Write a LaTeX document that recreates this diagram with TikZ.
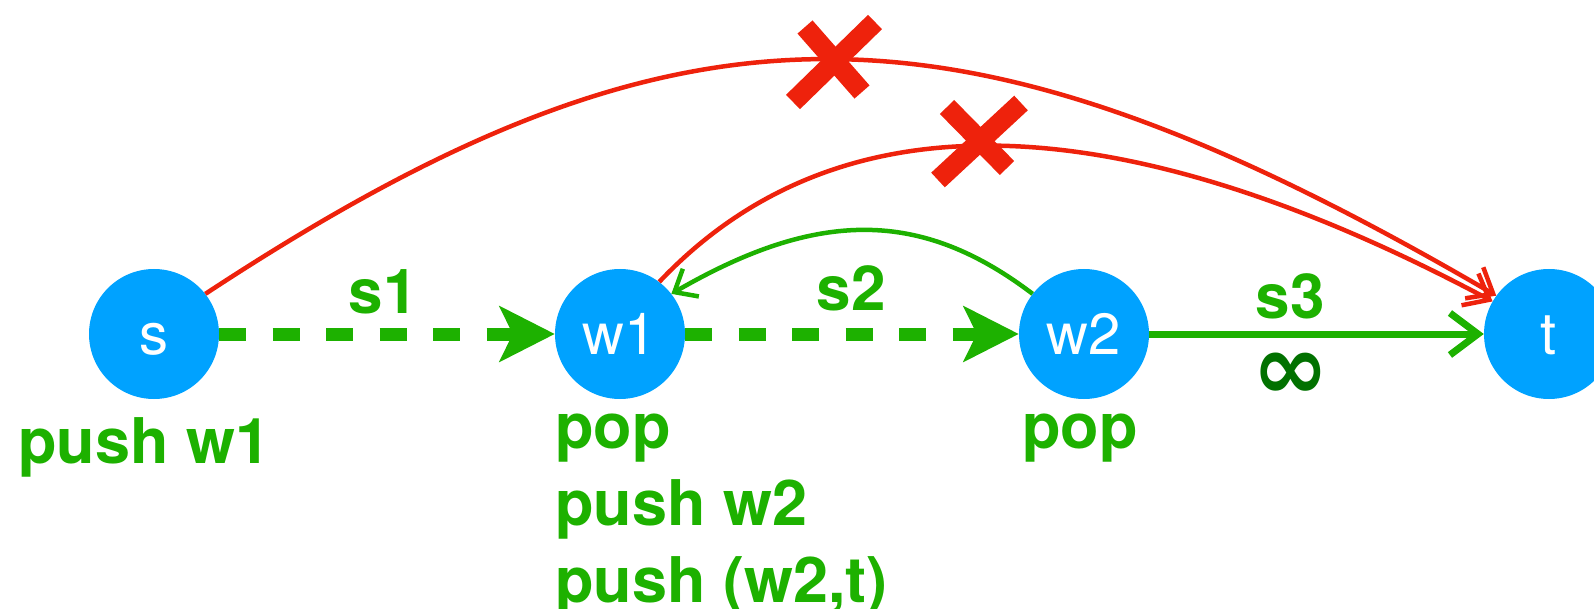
\documentclass[tikz,border=0pt]{standalone}
\usepackage{fontspec}
\setmainfont{TeX Gyre Heros}
\newfontfamily\symfont{DejaVu Sans}
\usetikzlibrary{arrows.meta}
\definecolor{kblue}{HTML}{00A2FF}
\definecolor{kgreen}{HTML}{1DB100}
\definecolor{kred}{HTML}{EE220C}
\definecolor{kdkgreen}{HTML}{017100}
\begin{document}
\begin{tikzpicture}[x=1pt,y=-1pt,
  vert/.style={circle,fill=kblue,minimum size=130pt,inner sep=0pt,text=white,font=\fontsize{58}{60}\selectfont},
  lbl/.style={text=kgreen,font=\bfseries\fontsize{63}{76}\selectfont,inner sep=0pt,anchor=base west},
  elbl/.style={text=kgreen,font=\bfseries\fontsize{62}{76}\selectfont,inner sep=0pt,anchor=base},
  dashedge/.style={draw=kgreen,line width=13pt,dash pattern=on 27pt off 26.5pt,
     -{Stealth[length=55pt,width=55pt,inset=13pt]}},
  solidedge/.style={draw=kgreen,line width=7pt,-{Straight Barb[length=28pt,width=42pt]}},
  backedge/.style={draw=kgreen,line width=4.5pt,-{Straight Barb[length=19pt,width=32pt]}},
  redcurve/.style={draw=kred,line width=4.5pt,-{Straight Barb[length=22pt,width=36pt]}},
  xmark/.style={draw=kred,line width=20pt,line cap=butt}
]
\useasboundingbox (0,0) rectangle (1594,609);
\node[vert] (s)  at (154,334)  {\vphantom{1}s};
\node[vert] (w1) at (620,334)  {w1};
\node[vert] (w2) at (1084,334) {w2};
\node[vert] (t)  at (1549,334) {\vphantom{1}t};

\draw[dashedge] (s) -- (w1);
\draw[dashedge] (w1) -- (w2);
\draw[solidedge] (w2) -- (t);
\draw[backedge] (w2.142) .. controls (921,209) and (818,209) .. (w1.38);
\draw[redcurve] (s.38) .. controls (680,-18) and (955,-20) .. (t.144);
\draw[redcurve] (w1.53) .. controls (835,96) and (1112,99) .. (t.150);

\draw[xmark] (805,27) -- (862,92);
\draw[xmark] (875,22) -- (793,102);
\draw[xmark] (947,107) -- (1007,168);
\draw[xmark] (1021,103) -- (938,180);

\node[elbl] (ls1) at (383,313) {s1};
\node[elbl] (ls2) at (851,311) {s2};
\node[elbl] (ls3) at (1290,318) {s3};
\node[text=kdkgreen,font=\symfont\bfseries\fontsize{92}{92}\selectfont,inner sep=0pt] (inf) at (1291,376) {∞};

\node[lbl] (ps) at (18,463) {push w1};
\node[lbl] (p1a) at (555,448) {pop};
\node[lbl] (p1b) at (555,525) {push w2};
\node[lbl] (p1c) at (555,602) {push (w2,t)};
\node[lbl] (p2) at (1022,448) {pop};
\end{tikzpicture}
\end{document}
